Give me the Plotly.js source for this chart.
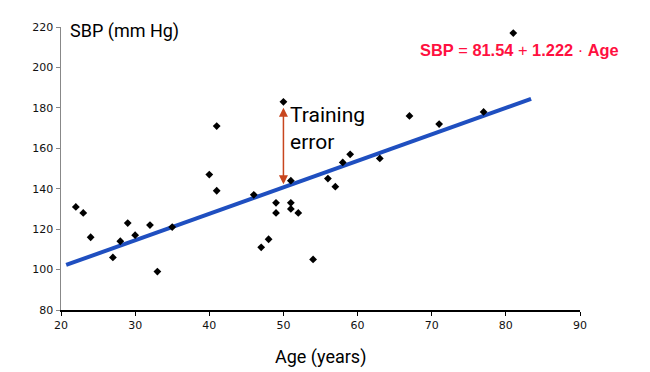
<!DOCTYPE html>
<html>
<head>
<meta charset="utf-8">
<script src="https://cdn.plot.ly/plotly-3.0.1.min.js"></script>
<style>html,body{margin:0;padding:0;background:#fff}#chart{width:650px;height:372px}</style>
</head>
<body>
<div id="chart"></div>
<script>
var age = [22,23,24,27,28,29,30,32,33,35,40,41,41,46,47,48,49,49,50,51,51,51,52,54,56,57,58,59,63,67,71,77,81];
var sbp = [131,128,116,106,114,123,117,122,99,121,147,171,139,137,111,115,133,128,183,144,133,130,128,105,145,141,153,157,155,176,172,178,217];
var lineX = [20.7, 83.4];
var lineY = [102.3, 184.4];
var arrowX = 50;
var arrowTop = 180.8;
var arrowBottom = 142.2;
var xTicks = [20,30,40,50,60,70,80,90];
var yTicks = [80,100,120,140,160,180,200,220];

var traces = [
  {x: lineX, y: lineY, mode: 'lines', line: {color: '#1f4fc0', width: 4}, hoverinfo: 'skip'},
  {x: age, y: sbp, mode: 'markers', marker: {symbol: 'diamond', size: 6, color: '#000'}}
];

var layout = {
  width: 650, height: 372,
  margin: {l: 61, r: 70, t: 27, b: 62},
  showlegend: false,
  paper_bgcolor: '#fff', plot_bgcolor: '#fff',
  font: {family: 'Liberation Sans, Arial, sans-serif', color: '#000'},
  xaxis: {range: [20, 90], tickvals: xTicks, ticks: 'outside', ticklen: 4, tickcolor: '#000',
          showgrid: false, zeroline: false, showline: true, linecolor: '#000', linewidth: 1.5,
          tickfont: {size: 11, family: 'DejaVu Sans, sans-serif', color: '#111'}},
  yaxis: {range: [80, 220], tickvals: yTicks, ticks: 'outside', ticklen: 4, tickcolor: '#888',
          showgrid: false, zeroline: false, showline: true, linecolor: '#888', linewidth: 1.5,
          tickfont: {size: 11, family: 'DejaVu Sans, sans-serif', color: '#111'}},
  annotations: [
    {x: arrowX, y: arrowBottom, ax: arrowX, ay: arrowTop, xref: 'x', yref: 'y', axref: 'x', ayref: 'y',
     showarrow: true, arrowhead: 2, arrowside: 'end+start', arrowsize: 1.2, arrowwidth: 1.5, arrowcolor: '#c8461e', text: ''},
    {x: 50.65, y: 170, xref: 'x', yref: 'y', xanchor: 'left', yanchor: 'middle', align: 'left', showarrow: false,
     text: 'Training<br>error', font: {family: 'Roboto, sans-serif', size: 21, color: '#000'}},
    {x: 0.014, y: 0.986, xref: 'paper', yref: 'paper', xanchor: 'left', yanchor: 'middle', showarrow: false,
     text: 'SBP (mm Hg)', font: {family: 'Roboto, sans-serif', size: 18, color: '#000'}},
    {x: 0.5, y: -0.166, xref: 'paper', yref: 'paper', xanchor: 'center', yanchor: 'middle', showarrow: false,
     text: 'Age (years)', font: {family: 'Roboto, sans-serif', size: 18, color: '#000'}},
    {x: 0.688, y: 0.917, xref: 'paper', yref: 'paper', xanchor: 'left', yanchor: 'middle', showarrow: false,
     text: '<b>SBP</b> = <b>81.54</b> + <b>1.222</b> · <b>Age</b>', font: {family: 'Liberation Sans, Arial, sans-serif', size: 16.4, color: '#ff1040'}}
  ]
};

Plotly.newPlot('chart', traces, layout, {displayModeBar: false, staticPlot: true});
</script>
</body>
</html>
